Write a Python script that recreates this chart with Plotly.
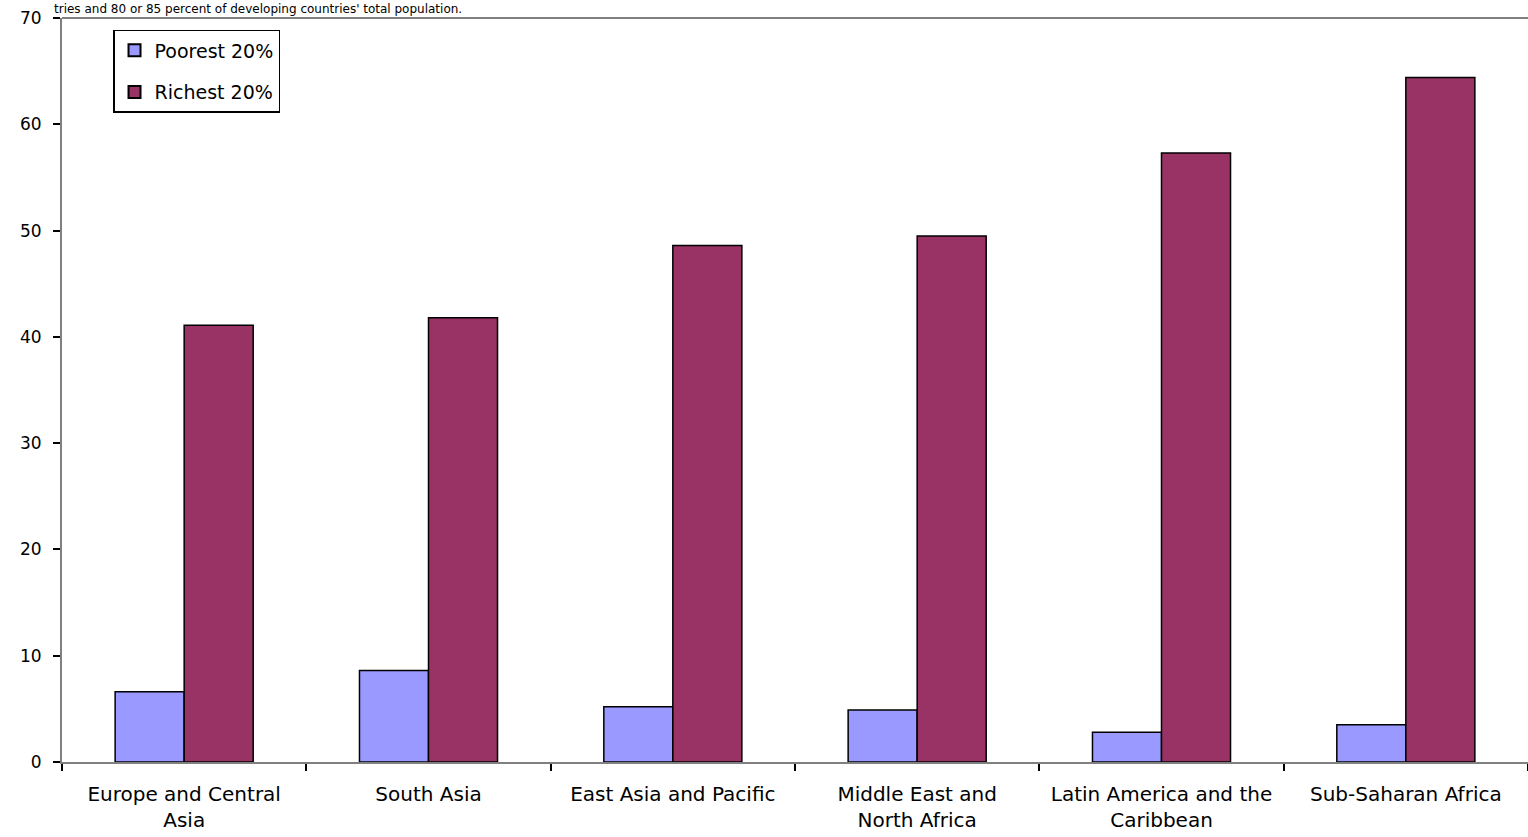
import plotly.graph_objects as go

categories = ["Europe and Central<br>Asia", "South Asia", "East Asia and Pacific",
              "Middle East and<br>North Africa", "Latin America and the<br>Caribbean",
              "Sub-Saharan Africa"]
poorest = [6.6, 8.6, 5.2, 4.9, 2.8, 3.5]
richest = [41.1, 41.8, 48.6, 49.5, 57.3, 64.4]
series_names = ["Poorest 20%", "Richest 20%"]
y_ticks = [0, 10, 20, 30, 40, 50, 60, 70]

FONT = "DejaVu Sans, Liberation Sans, Arial, sans-serif"

fig = go.Figure()
fig.add_trace(go.Bar(x=categories, y=poorest, name=series_names[0], legendgroup="p",
                     marker=dict(color="#9999FF", line=dict(color="#000000", width=1.5))))
fig.add_trace(go.Bar(x=categories, y=richest, name=series_names[1], legendgroup="r",
                     marker=dict(color="#993366", line=dict(color="#000000", width=1.5))))

fig.update_layout(
    width=1528, height=837,
    margin=dict(l=62, r=0, t=18, b=75),
    paper_bgcolor="white", plot_bgcolor="white",
    barmode="group", bargap=0.435, bargroupgap=0,
    font=dict(family=FONT, color="#000000", size=19),
    showlegend=True,
    legend=dict(x=0.0348, y=0.984, xanchor="left", yanchor="top",
                bordercolor="#000000", borderwidth=1.5, bgcolor="white",
                font=dict(size=19), itemsizing="constant", tracegroupgap=14),
    xaxis=dict(showline=True, linecolor="#808080", linewidth=2,
               ticks="outside", tickson="boundaries", ticklen=7, tickcolor="#000000",
               tickwidth=2, tickfont=dict(size=20), ticklabelstandoff=13,
               showgrid=False, mirror=False),
    yaxis=dict(range=[0, 70], tickvals=y_ticks, showline=True, linecolor="#808080",
               linewidth=2, ticks="outside", ticklen=7, tickcolor="#000000", tickwidth=2,
               tickfont=dict(size=17), ticklabelstandoff=8, showgrid=False, zeroline=False),
    shapes=[dict(type="line", xref="paper", yref="paper", x0=0, x1=1, y0=1, y1=1,
                 line=dict(color="#808080", width=2))],
    annotations=[dict(text="tries and 80 or 85 percent of developing countries' total population.",
                      xref="paper", yref="paper", x=-0.007, y=1.0242, xanchor="left",
                      yanchor="top", showarrow=False,
                      font=dict(size=12, family=FONT, color="#000000"))],
)

fig.write_html("out.html")
